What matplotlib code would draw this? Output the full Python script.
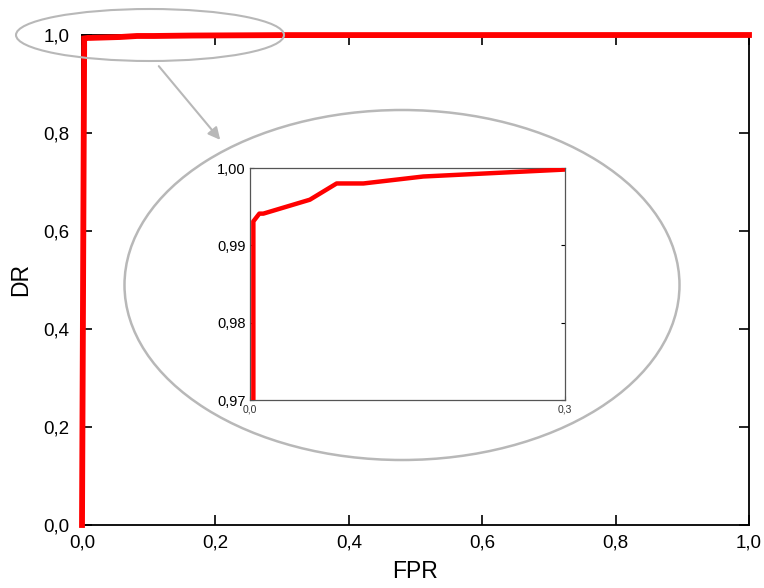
import matplotlib
matplotlib.use("Agg")
import matplotlib.pyplot as plt
import matplotlib.patches as patches

plt.rcParams['font.family'] = ['Liberation Sans', 'DejaVu Sans']

# ROC data
fpr = [0.0, 0.0032, 0.0032, 0.0089, 0.0127, 0.057, 0.0825, 0.108, 0.165, 0.3, 1.0]
dr = [0.0, 0.97, 0.9931, 0.9941, 0.9941, 0.9959, 0.9980, 0.9980, 0.9989, 0.9998, 1.0]

main_ticks = [0.0, 0.2, 0.4, 0.6, 0.8, 1.0]
main_labels = ['0,0', '0,2', '0,4', '0,6', '0,8', '1,0']
inset_xticks = [0.0, 0.3]
inset_xlabels = ['0,0', '0,3']
inset_yticks = [0.97, 0.98, 0.99, 1.00]
inset_ylabels = ['0,97', '0,98', '0,99', '1,00']

W, H = 764, 588
fig = plt.figure(figsize=(W / 100, H / 100), dpi=100)

# main axes
ax = fig.add_axes([82 / W, 1 - 525 / H, (749 - 82) / W, (525 - 35) / H])
ax.plot(fpr, dr, color='#ff0000', lw=4.2, solid_joinstyle='miter', clip_on=False, zorder=3)
ax.set_xlim(0, 1)
ax.set_ylim(0, 1)
ax.set_xticks(main_ticks)
ax.set_xticklabels(main_labels)
ax.set_yticks(main_ticks)
ax.set_yticklabels(main_labels)
ax.tick_params(direction='in', length=7, width=1.2, labelsize=13.5,
               top=True, right=True)
ax.tick_params(axis='y', pad=9)
ax.tick_params(axis='x', pad=7)
for s in ax.spines.values():
    s.set_linewidth(1.3)
ax.set_xlabel('FPR', fontsize=16.5, labelpad=6)
ax.set_ylabel('DR', fontsize=16.5, labelpad=8)

# inset zoom
ins = fig.add_axes([250 / W, 1 - 400 / H, (565 - 250) / W, (400 - 168) / H])
ins.plot(fpr, dr, color='#ff0000', lw=3.2, zorder=3)
ins.set_xlim(0, 0.3)
ins.set_ylim(0.97, 1.0)
ins.set_xticks(inset_xticks)
ins.set_xticklabels(inset_xlabels)
ins.set_yticks(inset_yticks)
ins.set_yticklabels(inset_ylabels)
ins.tick_params(direction='in', length=3, width=0.8, right=True)
ins.tick_params(axis='y', labelsize=10.5, pad=3)
ins.tick_params(axis='x', labelsize=7.5, pad=3, colors='#444444', labelcolor='#333333')
for s in ins.spines.values():
    s.set_linewidth(0.9)
    s.set_color('#555555')

# grey ellipses and arrow in figure coordinates
grey = '#b8b8b8'
small = patches.Ellipse((150 / W, 1 - 35 / H), 268 / W, 52 / H,
                        transform=fig.transFigure, fill=False,
                        edgecolor=grey, lw=1.5, clip_on=False)
big = patches.Ellipse((402 / W, 1 - 285 / H), 555 / W, 350 / H,
                      transform=fig.transFigure, fill=False,
                      edgecolor=grey, lw=1.8, clip_on=False)
fig.patches.extend([small, big])
fig.add_artist(patches.FancyArrowPatch((157 / W, 1 - 64 / H), (222 / W, 1 - 142 / H),
                                       transform=fig.transFigure,
                                       arrowstyle='-|>', mutation_scale=18,
                                       color=grey, lw=1.5))

fig.savefig('out.png', dpi=100)
